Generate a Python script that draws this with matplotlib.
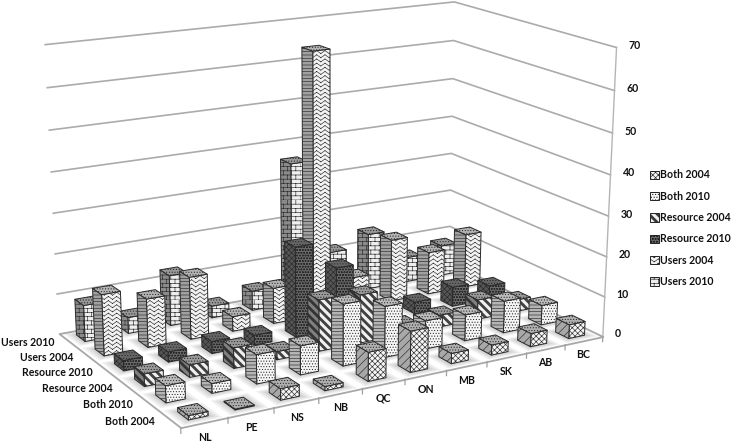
import warnings
import numpy as np
import matplotlib
matplotlib.use("Agg")
import matplotlib.pyplot as plt
from matplotlib import hatch as mhatch
from matplotlib.path import Path
from matplotlib.patches import Patch
from mpl_toolkits.mplot3d.art3d import Poly3DCollection

warnings.filterwarnings("ignore")
plt.rcParams["font.family"] = ["Lato", "DejaVu Sans"]
plt.rcParams["hatch.linewidth"] = 0.45

provinces = ["NL", "PE", "NS", "NB", "QC", "ON", "MB", "SK", "AB", "BC"]
series_names = ["Both 2004", "Both 2010", "Resource 2004", "Resource 2010", "Users 2004", "Users 2010"]
z_ticks = [0, 10, 20, 30, 40, 50, 60, 70]

both_2004 = [1, 0.2, 2.7, 1, 7, 10, 2.5, 2.5, 3.3, 3.5]
both_2010 = [4, 2.3, 7, 7, 15, 12.5, 7, 6.5, 8, 5]
resource_2004 = [3, 3, 5, 2, 12.7, 12, 2.5, 3, 5, 3]
resource_2010 = [2.5, 2.5, 3, 2.5, 22.5, 15.5, 2, 3, 5, 3.5]
users_2004 = [15, 12, 15.5, 3.7, 9, 66, 8, 16, 11, 14]
users_2010 = [9, 4, 12.7, 3, 5, 36, 11.5, 14.5, 6.5, 8]
all_values = [both_2004, both_2010, resource_2004, resource_2010, users_2004, users_2010]

# front hatch, side hatch, front colour, side colour, top colour
styles = [
    ("xxxxxx", "////", "#f4f4f4", "#a8a8a8", "#b0b0b0"),
    ("......", "-----", "#f6f6f6", "#b4b4b4", "#bcbcbc"),
    ("dd", "dd", "#f0f0f0", "#808080", "#9a9a9a"),
    ("oooooo", "xxxxxx", "#6a6a6a", "#555555", "#666666"),
    ("zzzz", "-----", "#f2f2f2", "#a0a0a0", "#b4b4b4"),
    ("bbbb", "bbbb", "#eeeeee", "#8a8a8a", "#999999"),
]


# brick, zigzag and bold stripe fills, the stock hatches have none of these
class BrickHatch(mhatch.HatchPatternBase):
    def __init__(self, hatch, density):
        self.rows = hatch.count("b") * density
        self.cols = self.rows // 2
        self.num_vertices = 2 * self.rows + 2 * self.rows * self.cols

    def set_vertices_and_codes(self, vertices, codes):
        k = 0
        for r in range(self.rows):
            y = r / self.rows
            vertices[k:k + 2] = [(0, y), (1, y)]
            k += 2
            for c in range(self.cols):
                x = (c + (r % 2) / 2) / self.cols
                vertices[k:k + 2] = [(x, y), (x, y + 1 / self.rows)]
                k += 2
        codes[0::2] = Path.MOVETO
        codes[1::2] = Path.LINETO


class ZigzagHatch(mhatch.HatchPatternBase):
    def __init__(self, hatch, density):
        self.rows = hatch.count("z") * density
        self.num_vertices = 2 * self.rows * self.rows

    def set_vertices_and_codes(self, vertices, codes):
        k = 0
        step = 1 / self.rows
        for r in range(self.rows):
            for c in range(self.rows):
                dy = 0.35 * step if c % 2 else -0.35 * step
                vertices[k:k + 2] = [(c * step, (r + 0.5) * step - dy), ((c + 1) * step, (r + 0.5) * step + dy)]
                k += 2
        codes[0::2] = Path.MOVETO
        codes[1::2] = Path.LINETO


class StripeHatch(mhatch.HatchPatternBase):
    def __init__(self, hatch, density):
        self.stripes = hatch.count("d") * density
        self.num_vertices = 2 * 2 * self.stripes * 4

    def set_vertices_and_codes(self, vertices, codes):
        k = 0
        for s in range(2 * self.stripes):
            for off in (0, 0.01, 0.02, 0.03):
                c = -1 + s / self.stripes + off
                vertices[k:k + 2] = [(0, 1 + c), (1, c)]
                k += 2
        codes[0::2] = Path.MOVETO
        codes[1::2] = Path.LINETO


mhatch._hatch_types.extend([BrickHatch, ZigzagHatch, StripeHatch])

W, H = 733, 443
# where the frame corners sit in the picture, used to set up the perspective
frame_3d = np.array([
    [0, 0, 0], [5, 0, 0], [10, 0, 0], [0, 6, 0], [10, 6, 0], [10, 0, 10],
    [10, 0, 70], [10, 6, 60], [10, 6, 10], [0, 6, 10], [0, 6, 20], [0, 6, 70],
], dtype=float)
frame_px = np.array([
    [182, 429], [404, 379], [602, 337], [58, 333], [450, 263], [605, 296],
    [617, 47], [453, 41], [450, 226], [57, 293], [56, 254], [45, 45],
], dtype=float)


def fit_camera(pts, px):
    rows = []
    for (x, y, z), (u, v) in zip(pts, px):
        rows.append([x, y, z, 1, 0, 0, 0, 0, -u * x, -u * y, -u * z, -u])
        rows.append([0, 0, 0, 0, x, y, z, 1, -v * x, -v * y, -v * z, -v])
    return np.linalg.svd(np.array(rows))[2][-1].reshape(3, 4)


P = fit_camera(frame_3d, frame_px)

fig = plt.figure(figsize=(W / 100, H / 100), dpi=100)
ax = fig.add_axes([0, 0, 1, 1], projection="3d", computed_zorder=False)
ax.set_axis_off()


def camera():
    to_disp = np.array([[1, 0, 0], [0, -1, H], [0, 0, 1]], dtype=float)
    to_ax = ax.transData.inverted().get_matrix()
    top = to_ax @ to_disp @ P
    return np.array([top[0], top[1], [0, 0, 0, 1], top[2]])


ax.get_proj = camera


def face(verts, color, hatch=None, edge="#2a2a2a", z=1, lw=0.7):
    poly = Poly3DCollection([verts], facecolor=color, edgecolor=edge, linewidth=lw, zorder=z)
    poly.set_clip_on(False)
    if hatch:
        poly.set_hatch(hatch)
    ax.add_collection3d(poly)


def draw_bar(x0, x1, y0, y1, h, style, z):
    front_h, side_h, front_c, side_c, top_c = style
    face([(x0, y0, 0), (x1, y0, 0), (x1, y0, h), (x0, y0, h)], front_c, front_h, z=z)
    face([(x0, y0, 0), (x0, y1, 0), (x0, y1, h), (x0, y0, h)], side_c, side_h, z=z + 0.1)
    face([(x0, y0, h), (x1, y0, h), (x1, y1, h), (x0, y1, h)], top_c, "......", z=z + 0.2)


def label(x, y, z, text, **kw):
    u, v, w = P @ np.array([x, y, z, 1.0])
    fig.text(u / w / W, 1 - v / w / H, text, va="center", fontsize=7.6, fontweight="bold", color="#111111", **kw)


# floor
face([(0, 0, 0), (10, 0, 0), (10, 6, 0), (0, 6, 0)], "#ffffff", edge="#a8a8a8", z=0, lw=1.3)

# gridlines on the two back walls
for t in z_ticks[1:]:
    ax.plot([0, 10, 10], [6, 6, 0], [t, t, t], color="#ababab", lw=1.2, zorder=0.5, clip_on=False)
ax.plot([10, 10], [0, 0], [0, 70], color="#b5b5b5", lw=1.0, zorder=0.5, clip_on=False)
for i in range(11):
    ax.plot([i, i], [0, 0], [0, -1.3], color="#a0a0a0", lw=0.9, zorder=0.5, clip_on=False)

# bars back to front
bar_w, bar_d = 0.42, 0.47
zo = 2.0
for j in range(5, -1, -1):
    for i in range(9, -1, -1):
        h = all_values[j][i]
        x0, x1 = i + 0.5 - bar_w / 2, i + 0.5 + bar_w / 2
        y0, y1 = j + 0.5 - bar_d / 2, j + 0.5 + bar_d / 2
        for grow in (0.2, 0.14, 0.08, 0.03):
            face([(x0 - grow, y0 - grow, 0), (x1 + grow, y0 - grow, 0), (x1 + grow, y1 + grow, 0), (x0 - grow, y1 + grow, 0)],
                 (0, 0, 0, 0.06), edge="none", z=1, lw=0)
        draw_bar(x0, x1, y0, y1, h, styles[j], zo)
        zo += 1

for t in z_ticks:
    label(10.32, 0, t, str(t), ha="left")
for i, name in enumerate(provinces):
    label(i + 0.5, 0, -3.5, name, ha="center")
for j, name in enumerate(series_names):
    label(-0.3, j + 0.5, 0, name, ha="right")

handles = [Patch(facecolor=s[2], edgecolor="#222222", hatch=s[0], linewidth=0.7) for s in styles]
fig.legend(handles, series_names, loc="upper left", bbox_to_anchor=(643 / W, 1 - 162 / H), frameon=False,
           prop={"size": 7.6, "weight": "bold"}, handlelength=0.85, handleheight=0.85, handletextpad=0.05,
           labelspacing=0.98, borderpad=0.2, labelcolor="#111111")

fig.savefig("out.png", dpi=100)
